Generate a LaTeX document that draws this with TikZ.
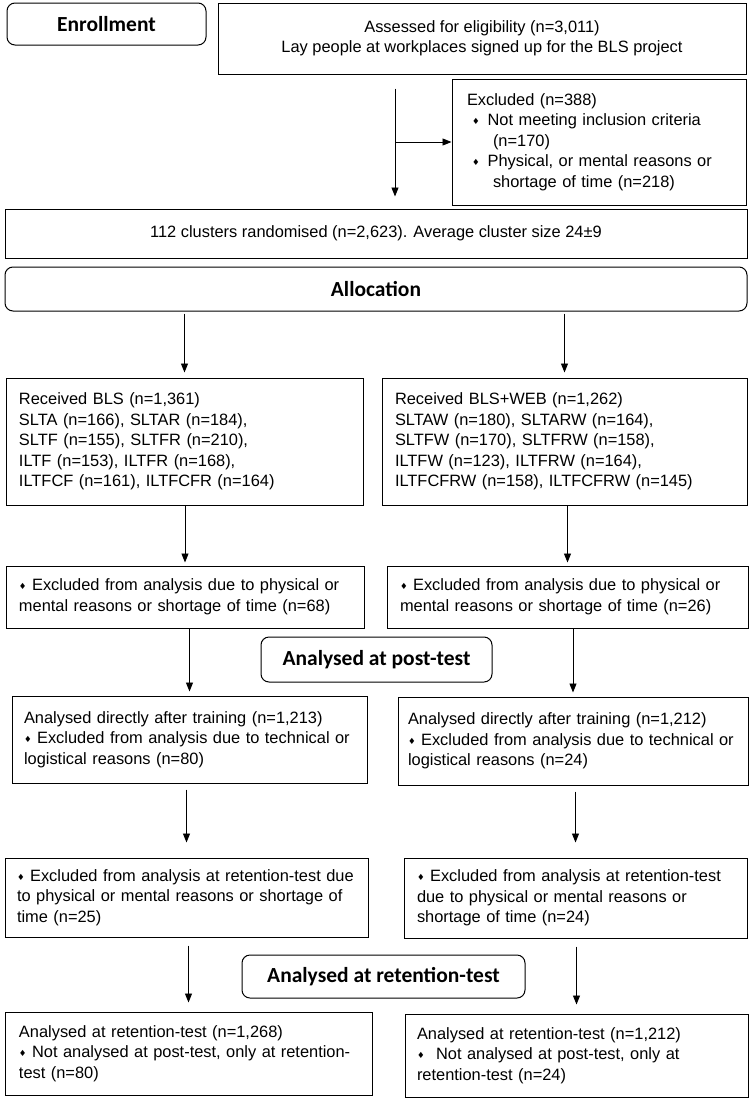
\documentclass[tikz,border=0pt]{standalone}
\usepackage{fontspec}
\setmainfont{Liberation Sans}
\newfontfamily\headfont{Carlito}
\newfontfamily\dejavu{DejaVu Sans}
\usetikzlibrary{arrows.meta,calc}
\newcommand\bul{{\dejavu\fontsize{8.5}{8.5}\selectfont\raisebox{1pt}{♦}}}
\newcommand\txtfont{\fontsize{16.4}{20.5}\selectfont}
\tikzset{
  box/.style={draw, line width=1pt, inner ysep=0pt, font=\txtfont, align=left},
  headbox/.style={draw, rounded corners=8pt, line width=1pt, inner sep=0pt,
    font=\headfont\bfseries\fontsize{21.5}{24}\selectfont},
  arr/.style={-{Triangle[length=9pt,width=7pt]}, line width=0.9pt}
}
\begin{document}
\begin{tikzpicture}[x=1pt,y=-1pt]
\useasboundingbox (0,0) rectangle (751,1103);

% headings
\node[headbox, minimum width=199pt, minimum height=42pt] (enroll) at (106.5,24) {Enrollment};
\node[headbox, minimum width=742pt, minimum height=44pt] (alloc) at (376,289) {Allocation};
\node[headbox, minimum width=231pt, minimum height=45pt] (post) at (376.5,659.5) {Analysed at post-test};
\node[headbox, minimum width=283pt, minimum height=43pt] (reten) at (383.5,976.5) {Analysed at retention-test};

% top boxes
\node[box, align=center, minimum width=528pt, minimum height=71pt] (assess) at (482,38.5)
  {Assessed for eligibility (n=3,011)\\ Lay people at workplaces signed up for the BLS project};
\node[box, minimum width=294pt, minimum height=126pt, text width=264pt, inner xsep=15pt] (excl) at (599,142)
  {Excluded (n=388)\\
   \hspace*{5pt}\bul\hspace{8pt}Not meeting inclusion criteria\\
   \hspace*{26pt}(n=170)\\
   \hspace*{5pt}\bul\hspace{8pt}Physical, or mental reasons or\\
   \hspace*{26pt}shortage of time (n=218)};
\node[box, align=center, minimum width=742pt, minimum height=49pt] (clusters) at (376,233.5)
  {112 clusters randomised (n=2,623). Average cluster size 24±9};

% left column
\node[box, minimum width=357pt, minimum height=127pt, text width=331pt, inner xsep=13pt] (recvL) at (184.5,441.5)
  {Received BLS (n=1,361)\\
   SLTA (n=166), SLTAR (n=184),\\
   SLTF (n=155), SLTFR (n=210),\\
   ILTF (n=153), ILTFR (n=168),\\
   ILTFCF (n=161), ILTFCFR (n=164)};
\node[box, minimum width=358pt, minimum height=62pt, text width=332pt, inner xsep=13pt] (exclL) at (185,597)
  {\bul{} Excluded from analysis due to physical or\\ mental reasons or shortage of time (n=68)};
\node[box, minimum width=355pt, minimum height=87pt, text width=331pt, inner xsep=12pt] (anaL) at (189.5,739.5)
  {Analysed directly after training (n=1,213)\\ \bul{} Excluded from analysis due to technical or\\ logistical reasons (n=80)};
\node[box, minimum width=363pt, minimum height=79pt, text width=339pt, inner xsep=12pt] (retL) at (186.5,897.5)
  {\bul{} Excluded from analysis at retention-test due\\ to physical or mental reasons or shortage of\\ time (n=25)};
\node[box, minimum width=367pt, minimum height=83pt, text width=339pt, inner xsep=14pt] (finL) at (188.5,1053.5)
  {Analysed at retention-test (n=1,268)\\ \bul{} Not analysed at post-test, only at retention-\\ test (n=80)};

% right column
\node[box, minimum width=365pt, minimum height=127pt, text width=339pt, inner xsep=13pt] (recvR) at (564.5,441.5)
  {Received BLS+WEB (n=1,262)\\
   SLTAW (n=180), SLTARW (n=164),\\
   SLTFW (n=170), SLTFRW (n=158),\\
   ILTFW (n=123), ILTFRW (n=164),\\
   ILTFCFRW (n=158), ILTFCFRW (n=145)};
\node[box, minimum width=361pt, minimum height=62pt, text width=335pt, inner xsep=13pt] (exclR) at (567.5,597)
  {\bul{} Excluded from analysis due to physical or\\ mental reasons or shortage of time (n=26)};
\node[box, minimum width=350pt, minimum height=88pt, text width=330pt, inner xsep=10pt] (anaR) at (573,741)
  {Analysed directly after training (n=1,212)\\ \bul{} Excluded from analysis due to technical or\\ logistical reasons (n=24)};
\node[box, minimum width=343pt, minimum height=80pt, text width=317pt, inner xsep=13pt] (retR) at (575.5,898)
  {\bul{} Excluded from analysis at retention-test\\ due to physical or mental reasons or\\ shortage of time (n=24)};
\node[box, minimum width=343pt, minimum height=83pt, text width=319pt, inner xsep=12pt] (finR) at (576.5,1055.5)
  {Analysed at retention-test (n=1,212)\\ \bul\hspace{6pt} Not analysed at post-test, only at\\ retention-test (n=24)};

% connectors
\coordinate (spine) at (395,0);
\draw[arr, shorten <=14pt, shorten >=12pt] (assess.south -| spine) -- (clusters.north -| spine);
\draw[arr] (spine |- excl.west) -- (excl.west);

\draw[arr, shorten <=2pt, shorten >=5pt] (alloc.south -| recvL.north) -- (recvL.north);
\draw[arr, shorten <=2pt, shorten >=5pt] (alloc.south -| recvR.north) -- (recvR.north);

\draw[arr, shorten >=3pt] (recvL.south -| exclL.north) -- (exclL.north);
\draw[arr, shorten >=3pt] (recvR.south -| exclR.north) -- (exclR.north);

\draw[arr, shorten >=4pt] (exclL.south -| anaL.north) -- (anaL.north);
\draw[arr, shorten >=4pt] (exclR.south -| anaR.north) -- (anaR.north);

\draw[arr, shorten <=6pt, shorten >=15pt] (anaL.south -| retL.north) -- (retL.north);
\draw[arr, shorten <=6pt, shorten >=15pt] (anaR.south -| retR.north) -- (retR.north);

\draw[arr, shorten <=8pt, shorten >=9pt] (retL.south -| finL.north) -- (finL.north);
\draw[arr, shorten <=8pt, shorten >=9pt] (retR.south -| finR.north) -- (finR.north);
\end{tikzpicture}
\end{document}
